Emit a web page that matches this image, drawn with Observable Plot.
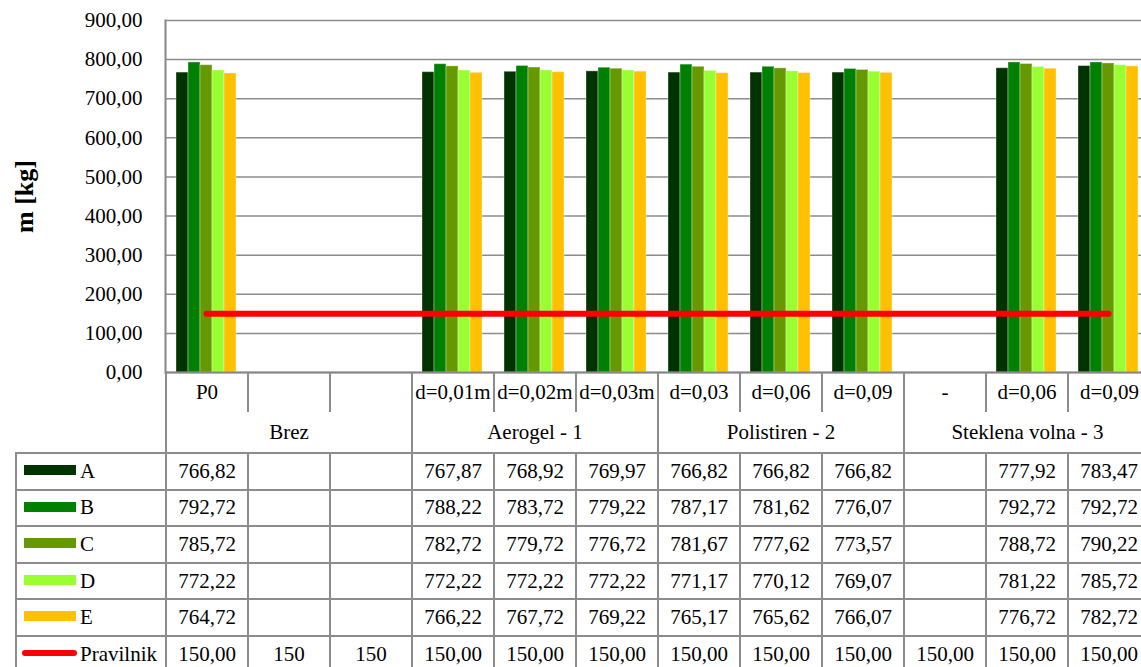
<!DOCTYPE html>
<html><head><meta charset="utf-8">
<script src="https://cdn.jsdelivr.net/npm/d3@7"></script>
<script src="https://cdn.jsdelivr.net/npm/@observablehq/plot@0.6"></script>
<style>
html,body{margin:0;padding:0;background:#fff;overflow:hidden;width:1141px;height:667px;}
#wrap{position:relative;width:1149px;height:667px;font-family:"Liberation Serif","Tinos","Times New Roman","DejaVu Serif",serif;}
#wrap svg{position:absolute;left:0;top:0;}
table{position:absolute;left:15px;top:372px;border-collapse:collapse;table-layout:fixed;font-size:21px;color:#000;width:1134px;}
td{padding:0;text-align:center;white-space:nowrap;overflow:hidden;vertical-align:middle;}
td.blank{border:none;}
td.cat{border-left:2px solid #8c8c8c;}
td.grp{border-left:2px solid #8c8c8c;}
tr.data td{border:2px solid #8c8c8c;}
tr.data td.leg{text-align:left;}
.sw{display:inline-block;width:52px;height:10px;margin-left:7px;margin-right:4px;vertical-align:middle;position:relative;top:-3px;}
.swl{display:inline-block;width:55px;height:6px;border-radius:3px;margin-left:5px;margin-right:3px;vertical-align:middle;position:relative;top:-3px;}
</style></head><body><div id="wrap"></div>
<script>
// ---- data ----
const categories = ["P0", "", "", "d=0,01m", "d=0,02m", "d=0,03m", "d=0,03", "d=0,06", "d=0,09", "-", "d=0,06", "d=0,09"];
const groups = ["Brez", "Aerogel - 1", "Polistiren - 2", "Steklena volna - 3"];
const seriesNames = ["A", "B", "C", "D", "E"];
const seriesColors = ["#003300", "#008000", "#669900", "#99ff33", "#ffc000"];
const valuesA = [766.82, null, null, 767.87, 768.92, 769.97, 766.82, 766.82, 766.82, null, 777.92, 783.47];
const valuesB = [792.72, null, null, 788.22, 783.72, 779.22, 787.17, 781.62, 776.07, null, 792.72, 792.72];
const valuesC = [785.72, null, null, 782.72, 779.72, 776.72, 781.67, 777.62, 773.57, null, 788.72, 790.22];
const valuesD = [772.22, null, null, 772.22, 772.22, 772.22, 771.17, 770.12, 769.07, null, 781.22, 785.72];
const valuesE = [764.72, null, null, 766.22, 767.72, 769.22, 765.17, 765.62, 766.07, null, 776.72, 782.72];
const pravilnik = [150, 150, 150, 150, 150, 150, 150, 150, 150, 150, 150, 150];
const pravilnikLabels = ["150,00", "150", "150", "150,00", "150,00", "150,00", "150,00", "150,00", "150,00", "150,00", "150,00", "150,00"];
const yTicks = [0, 100, 200, 300, 400, 500, 600, 700, 800, 900];

// ---- derived ----
const seriesValues = [valuesA, valuesB, valuesC, valuesD, valuesE];
const keys = categories.map((c, i) => i + "|" + c);
const fmt = v => d3.format(".2f")(v).replace(".", ",");
const rows = [];
seriesNames.forEach((s, si) => seriesValues[si].forEach((v, ci) => {
  if (v != null) rows.push({cat: keys[ci], series: s, value: v});
}));
const lineRows = keys.map((k, i) => ({cat: k, value: pravilnik[i]}));

const wrap = document.getElementById("wrap");
const font = "'Liberation Serif', Tinos, 'Times New Roman', 'DejaVu Serif', serif";
const dims = {width: 1149, height: 373, marginLeft: 165, marginRight: 0, marginTop: 20, marginBottom: 1,
  style: {fontFamily: font, fontSize: "21px", background: "transparent", overflow: "visible", color: "#000"}};

// ---- table (below chart) ----
const table = document.createElement("table");
const cg = document.createElement("colgroup");
[150, ...categories.map(() => 82)].forEach(w => { const c = document.createElement("col"); c.style.width = w + "px"; cg.appendChild(c); });
table.appendChild(cg);
let tr = table.insertRow(); tr.style.height = "40px";
let td = tr.insertCell(); td.className = "blank";
categories.forEach(c => { td = tr.insertCell(); td.className = "cat"; td.textContent = c; });
tr = table.insertRow(); tr.style.height = "41px";
td = tr.insertCell(); td.className = "blank";
groups.forEach(g => { td = tr.insertCell(); td.className = "grp"; td.colSpan = 3; td.textContent = g; });
seriesNames.forEach((s, si) => {
  tr = table.insertRow(); tr.className = "data"; tr.style.height = "36.6px";
  td = tr.insertCell(); td.className = "leg";
  const sw = document.createElement("span"); sw.className = "sw"; sw.style.background = seriesColors[si];
  td.appendChild(sw); td.appendChild(document.createTextNode(s));
  seriesValues[si].forEach(v => { td = tr.insertCell(); td.textContent = v == null ? "" : fmt(v); });
});
tr = table.insertRow(); tr.className = "data"; tr.style.height = "36.6px";
td = tr.insertCell(); td.className = "leg";
const swl = document.createElement("span"); swl.className = "swl"; swl.style.background = "#ff0000";
td.appendChild(swl); td.appendChild(document.createTextNode("Pravilnik"));
pravilnikLabels.forEach(t => { td = tr.insertCell(); td.textContent = t; });
wrap.appendChild(table);

// ---- underlay: gridlines, y axis, y label ----
const underlay = Plot.plot({
  ...dims,
  x: {type: "point", domain: keys, padding: 0.5, axis: null},
  y: {domain: [0, 900], axis: null},
  marks: [
    Plot.gridY(yTicks, {stroke: "#8c8c8c", strokeOpacity: 1, strokeWidth: 1.5}),
    Plot.axisY(yTicks, {tickSize: 0, tickPadding: 23, tickFormat: fmt, label: null, fill: "#000", fontSize: 21}),
    Plot.text(["m [kg]"], {text: d => d, frameAnchor: "left", textAnchor: "middle", dx: -141, rotate: -90, fontWeight: "bold", fontSize: 26, fill: "#000"})
  ]
});
wrap.appendChild(underlay);

// ---- bars (faceted by category) ----
const chart = Plot.plot({
  ...dims,
  fx: {domain: keys, padding: 0, axis: null},
  x: {domain: seriesNames, paddingInner: 0, paddingOuter: 0.75, axis: null},
  y: {domain: [0, 900], axis: null},
  color: {domain: seriesNames, range: seriesColors},
  marks: [
    Plot.barY(rows, {fx: "cat", x: "series", y: "value", fill: "series", stroke: "#ffffff", strokeOpacity: 0.35, strokeWidth: 1})
  ]
});
wrap.appendChild(chart);

// ---- overlay: axis lines, Pravilnik line ----
const overlay = Plot.plot({
  ...dims,
  x: {type: "point", domain: keys, padding: 0.5, axis: null},
  y: {domain: [0, 900], axis: null},
  marks: [
    Plot.ruleY([0], {stroke: "#868686", strokeWidth: 2}),
    Plot.frame({anchor: "left", stroke: "#868686", strokeWidth: 2}),
    Plot.lineY(lineRows, {x: "cat", y: "value", stroke: "#ff0000", strokeWidth: 6, strokeLinecap: "round"})
  ]
});
wrap.appendChild(overlay);
</script>
</body></html>
